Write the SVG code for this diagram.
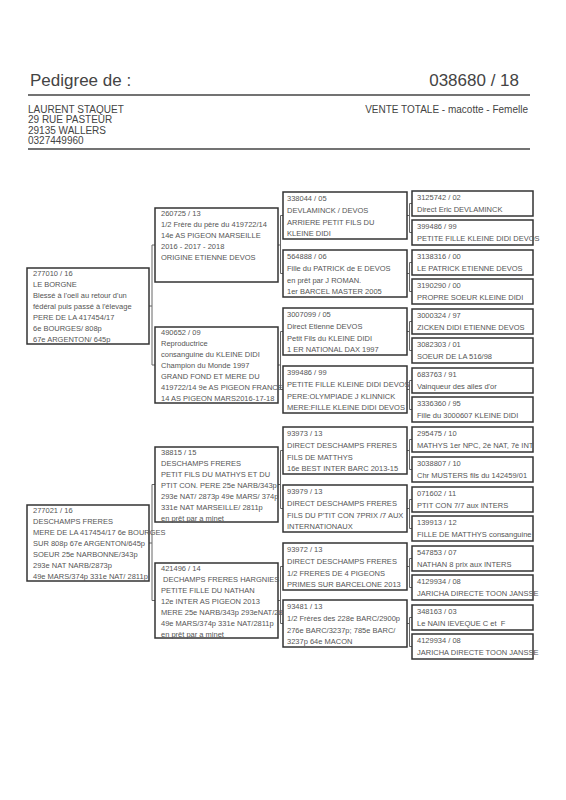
<svg xmlns="http://www.w3.org/2000/svg" width="566" height="800" viewBox="0 0 566 800">
<style>
.bg{fill:#fff}
.box{fill:#fff;stroke:#333;stroke-width:1.5}
.t{font-family:"Liberation Sans",Arial,sans-serif;font-size:7.5px;fill:#555}
.h{font-family:"Liberation Sans",Arial,sans-serif;fill:#444}
.hl{stroke:#444;stroke-width:1.3}
.conn{fill:none;stroke:#666;stroke-width:1}
</style>
<rect class="bg" x="0" y="0" width="566" height="800"/>
<g id="header">
<text class="h" x="30" y="86" font-size="17">Pedigree de :</text>
<text class="h" x="519" y="86" font-size="17" text-anchor="end">038680 / 18</text>
<line class="hl" x1="28" y1="95" x2="530" y2="95"/>
<text class="h" font-size="10"><tspan x="28" y="112.5">LAURENT STAQUET</tspan><tspan x="28" y="123">29 RUE PASTEUR</tspan><tspan x="28" y="133.5">29135 WALLERS</tspan><tspan x="28" y="144">0327449960</tspan></text>
<text class="h" x="528" y="112.5" font-size="10" text-anchor="end">VENTE TOTALE - macotte - Femelle</text>
<line class="hl" x1="28" y1="149" x2="530" y2="149"/>
</g>
<g id="connectors">
<path class="conn" d="M149 306H152M155 245H152V365H155"/>
<path class="conn" d="M149 543H152M155 484.5H152V600.5H155"/>
<path class="conn" d="M278 245H280.5M283 215.5H280.5V273.5H283"/>
<path class="conn" d="M278 365H280.5M283 331.5H280.5V389.5H283"/>
<path class="conn" d="M278 484.5H280.5M283 450.5H280.5V508.5H283"/>
<path class="conn" d="M278 600.5H280.5M283 566.5H280.5V623.5H283"/>
<path class="conn" d="M407 215.5H409.5M412 203.5H409.5V232.5H412"/>
<path class="conn" d="M407 273.5H409.5M412 262.5H409.5V291.5H412"/>
<path class="conn" d="M407 331.5H409.5M412 321.5H409.5V350.5H412"/>
<path class="conn" d="M407 389.5H409.5M412 380.5H409.5V409.5H412"/>
<path class="conn" d="M407 450.5H409.5M412 439.5H409.5V469.5H412"/>
<path class="conn" d="M407 508.5H409.5M412 499.5H409.5V528.5H412"/>
<path class="conn" d="M407 566.5H409.5M412 558.5H409.5V587.5H412"/>
<path class="conn" d="M407 623.5H409.5M412 617.5H409.5V646.5H412"/>
</g>
<g id="n277010">
<rect class="box" x="27" y="268" width="122" height="76"/>
<text class="t"><tspan x="33" y="276">277010 / 16</tspan><tspan x="33" y="287">LE BORGNE</tspan><tspan x="33" y="298">Blessé à l'oeil au retour d'un</tspan><tspan x="33" y="309">fédéral puis passé à l'élevage</tspan><tspan x="33" y="320">PERE DE LA 417454/17</tspan><tspan x="33" y="331">6e BOURGES/ 808p</tspan><tspan x="33" y="342">67e ARGENTON/ 645p</tspan></text>
</g>
<g id="n277021">
<rect class="box" x="27" y="505" width="122" height="76"/>
<text class="t"><tspan x="33" y="513">277021 / 16</tspan><tspan x="33" y="524">DESCHAMPS FRERES</tspan><tspan x="33" y="535">MERE DE LA 417454/17 6e BOURGES</tspan><tspan x="33" y="546">SUR 808p 67e ARGENTON/645p</tspan><tspan x="33" y="557">SOEUR 25e NARBONNE/343p</tspan><tspan x="33" y="568">293e NAT NARB/2873p</tspan><tspan x="33" y="579">49e MARS/374p 331e NAT/ 2811p</tspan></text>
</g>
<g id="n260725">
<rect class="box" x="155" y="208" width="123" height="74"/>
<text class="t"><tspan x="161" y="215.5">260725 / 13</tspan><tspan x="161" y="226.5">1/2 Frère du père du 419722/14</tspan><tspan x="161" y="237.5">14e AS PIGEON MARSEILLE</tspan><tspan x="161" y="248.5">2016 - 2017 - 2018</tspan><tspan x="161" y="259.5">ORIGINE ETIENNE DEVOS</tspan></text>
</g>
<g id="n490652">
<rect class="box" x="155" y="327" width="123" height="76"/>
<text class="t"><tspan x="161" y="334.5">490652 / 09</tspan><tspan x="161" y="345.5">Reproductrice</tspan><tspan x="161" y="356.5">consanguine du KLEINE DIDI</tspan><tspan x="161" y="367.5">Champion du Monde 1997</tspan><tspan x="161" y="378.5">GRAND FOND ET MERE DU</tspan><tspan x="161" y="389.5">419722/14 9e AS PIGEON FRANCE</tspan><tspan x="161" y="400.5">14 AS PIGEON MARS2016-17-18</tspan></text>
</g>
<g id="n38815">
<rect class="box" x="155" y="447" width="123" height="75"/>
<text class="t"><tspan x="161" y="454.5">38815 / 15</tspan><tspan x="161" y="465.5">DESCHAMPS FRERES</tspan><tspan x="161" y="476.5">PETIT FILS DU MATHYS ET DU</tspan><tspan x="161" y="487.5">PTIT CON. PERE 25e NARB/343p</tspan><tspan x="161" y="498.5">293e NAT/ 2873p 49e MARS/ 374p</tspan><tspan x="161" y="509.5">331e NAT MARSEILLE/ 2811p</tspan><tspan x="161" y="520.5">en prêt par a minet</tspan></text>
</g>
<g id="n421496">
<rect class="box" x="155" y="563" width="123" height="75"/>
<text class="t" xml:space="preserve"><tspan x="161" y="570.5">421496 / 14</tspan><tspan x="161" y="581.5"> DECHAMPS FRERES HARGNIES</tspan><tspan x="161" y="592.5">PETITE FILLE DU NATHAN</tspan><tspan x="161" y="603.5">12e INTER AS PIGEON 2013</tspan><tspan x="161" y="614.5">MERE 25e NARB/343p 293eNAT/2873p</tspan><tspan x="161" y="625.5">49e MARS/374p 331e NAT/2811p</tspan><tspan x="161" y="636.5">en prêt par a minet</tspan></text>
</g>
<g id="n338044">
<rect class="box" x="283" y="192" width="124" height="47"/>
<text class="t"><tspan x="287" y="201">338044 / 05</tspan><tspan x="287" y="212.8">DEVLAMINCK / DEVOS</tspan><tspan x="287" y="224.6">ARRIERE PETIT FILS DU</tspan><tspan x="287" y="236.4">KLEINE DIDI</tspan></text>
</g>
<g id="n564888">
<rect class="box" x="283" y="250" width="124" height="47"/>
<text class="t"><tspan x="287" y="259">564888 / 06</tspan><tspan x="287" y="270.8">Fille du PATRICK de E DEVOS</tspan><tspan x="287" y="282.6">en prêt par J ROMAN.</tspan><tspan x="287" y="294.4">1er BARCEL MASTER 2005</tspan></text>
</g>
<g id="n3007099">
<rect class="box" x="283" y="308" width="124" height="47"/>
<text class="t"><tspan x="287" y="317">3007099 / 05</tspan><tspan x="287" y="328.8">Direct Etienne DEVOS</tspan><tspan x="287" y="340.6">Petit Fils du KLEINE DIDI</tspan><tspan x="287" y="352.4">1 ER NATIONAL DAX 1997</tspan></text>
</g>
<g id="n399486a">
<rect class="box" x="283" y="366" width="124" height="47"/>
<text class="t"><tspan x="287" y="375">399486 / 99</tspan><tspan x="287" y="386.8">PETITE FILLE KLEINE DIDI DEVOS</tspan><tspan x="287" y="398.6">PERE:OLYMPIADE J KLINNICK</tspan><tspan x="287" y="410.4">MERE:FILLE KLEINE DIDI DEVOS</tspan></text>
</g>
<g id="n93973">
<rect class="box" x="283" y="427" width="124" height="47"/>
<text class="t"><tspan x="287" y="436">93973 / 13</tspan><tspan x="287" y="447.8">DIRECT DESCHAMPS FRERES</tspan><tspan x="287" y="459.6">FILS DE MATTHYS</tspan><tspan x="287" y="471.4">16e BEST INTER BARC 2013-15</tspan></text>
</g>
<g id="n93979">
<rect class="box" x="283" y="485" width="124" height="47"/>
<text class="t"><tspan x="287" y="494">93979 / 13</tspan><tspan x="287" y="505.8">DIRECT DESCHAMPS FRERES</tspan><tspan x="287" y="517.6">FILS DU P'TIT CON 7PRIX /7 AUX</tspan><tspan x="287" y="529.4">INTERNATIONAUX</tspan></text>
</g>
<g id="n93972">
<rect class="box" x="283" y="543" width="124" height="47"/>
<text class="t"><tspan x="287" y="552">93972 / 13</tspan><tspan x="287" y="563.8">DIRECT DESCHAMPS FRERES</tspan><tspan x="287" y="575.6">1/2 FRERES DE 4 PIGEONS</tspan><tspan x="287" y="587.4">PRIMES SUR BARCELONE 2013</tspan></text>
</g>
<g id="n93481">
<rect class="box" x="283" y="600" width="124" height="47"/>
<text class="t"><tspan x="287" y="609">93481 / 13</tspan><tspan x="287" y="620.8">1/2 Frères des 228e BARC/2900p</tspan><tspan x="287" y="632.6">276e BARC/3237p; 785e BARC/</tspan><tspan x="287" y="644.4">3237p 64e MACON</tspan></text>
</g>
<g id="n3125742"><rect class="box" x="412" y="191" width="121" height="25"/><text class="t"><tspan x="417" y="200">3125742 / 02</tspan><tspan x="417" y="211.5">Direct Eric DEVLAMINCK</tspan></text></g>
<g id="n399486b"><rect class="box" x="412" y="220" width="121" height="25"/><text class="t"><tspan x="417" y="229">399486 / 99</tspan><tspan x="417" y="240.5">PETITE FILLE KLEINE DIDI DEVOS</tspan></text></g>
<g id="n3138316"><rect class="box" x="412" y="250" width="121" height="25"/><text class="t"><tspan x="417" y="259">3138316 / 00</tspan><tspan x="417" y="270.5">LE PATRICK ETIENNE DEVOS</tspan></text></g>
<g id="n3190290"><rect class="box" x="412" y="279" width="121" height="25"/><text class="t"><tspan x="417" y="288">3190290 / 00</tspan><tspan x="417" y="299.5">PROPRE SOEUR KLEINE DIDI</tspan></text></g>
<g id="n3000324"><rect class="box" x="412" y="309" width="121" height="25"/><text class="t"><tspan x="417" y="318">3000324 / 97</tspan><tspan x="417" y="329.5">ZICKEN DIDI ETIENNE DEVOS</tspan></text></g>
<g id="n3082303"><rect class="box" x="412" y="338" width="121" height="25"/><text class="t"><tspan x="417" y="347">3082303 / 01</tspan><tspan x="417" y="358.5">SOEUR DE LA 516/98</tspan></text></g>
<g id="n683763"><rect class="box" x="412" y="368" width="121" height="25"/><text class="t"><tspan x="417" y="377">683763 / 91</tspan><tspan x="417" y="388.5">Vainqueur des ailes d'or</tspan></text></g>
<g id="n3336360"><rect class="box" x="412" y="397" width="121" height="25"/><text class="t"><tspan x="417" y="406">3336360 / 95</tspan><tspan x="417" y="417.5">Fille du 3000607 KLEINE DIDI</tspan></text></g>
<g id="n295475"><rect class="box" x="412" y="427" width="121" height="25"/><text class="t"><tspan x="417" y="436">295475 / 10</tspan><tspan x="417" y="447.5">MATHYS 1er NPC, 2è NAT, 7è INT</tspan></text></g>
<g id="n3038807"><rect class="box" x="412" y="457" width="121" height="25"/><text class="t"><tspan x="417" y="466">3038807 / 10</tspan><tspan x="417" y="477.5">Chr MUSTERS fils du 142459/01</tspan></text></g>
<g id="n071602"><rect class="box" x="412" y="487" width="121" height="25"/><text class="t"><tspan x="417" y="496">071602 / 11</tspan><tspan x="417" y="507.5">PTIT CON 7/7 aux INTERS</tspan></text></g>
<g id="n139913"><rect class="box" x="412" y="516" width="121" height="25"/><text class="t"><tspan x="417" y="525">139913 / 12</tspan><tspan x="417" y="536.5">FILLE DE MATTHYS consanguine</tspan></text></g>
<g id="n547853"><rect class="box" x="412" y="546" width="121" height="25"/><text class="t"><tspan x="417" y="555">547853 / 07</tspan><tspan x="417" y="566.5">NATHAN 8 prix aux INTERS</tspan></text></g>
<g id="n4129934a"><rect class="box" x="412" y="575" width="121" height="25"/><text class="t"><tspan x="417" y="584">4129934 / 08</tspan><tspan x="417" y="595.5">JARICHA DIRECTE TOON JANSSE</tspan></text></g>
<g id="n348163"><rect class="box" x="412" y="605" width="121" height="25"/><text class="t" xml:space="preserve"><tspan x="417" y="614">348163 / 03</tspan><tspan x="417" y="625.5">Le NAIN IEVEQUE C et  F</tspan></text></g>
<g id="n4129934b"><rect class="box" x="412" y="634" width="121" height="25"/><text class="t"><tspan x="417" y="643">4129934 / 08</tspan><tspan x="417" y="654.5">JARICHA DIRECTE TOON JANSSE</tspan></text></g>
</svg>
